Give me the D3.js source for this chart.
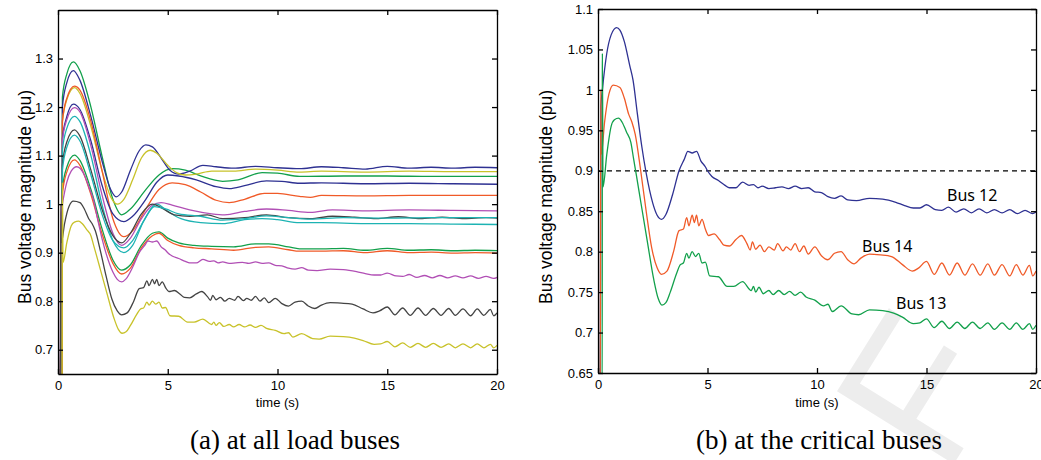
<!DOCTYPE html>
<html>
<head>
<meta charset="utf-8">
<script src="https://cdn.jsdelivr.net/npm/d3@7"></script>
<style>
  body { margin: 0; background: #fff; }
  svg { display: block; }
  .tick text { font-family: "Liberation Sans", Arial, sans-serif; font-size: 13px; fill: #000; }
  .domain, .tick line { stroke: #000; stroke-width: 1.3px; }
</style>
</head>
<body>
<svg id="chart" width="1041" height="460"></svg>
<script>
/**
Data: [time (s), voltage (pu)]
*/
var timeTicks = [0, 5, 10, 15, 20];
var leftVoltTicks = [0.7, 0.8, 0.9, 1.0, 1.1, 1.2, 1.3];
var rightVoltTicks = [0.65, 0.7, 0.75, 0.8, 0.85, 0.9, 0.95, 1.0, 1.05, 1.1];
var voltageLimit = 0.9;

var bus12 = [[0,1.0],[0.03,0.6],[0.1,0.6],[0.13,0.98],[0.2,1.0],[0.4,1.045],[0.6,1.068],[0.85,1.077],[1.0,1.074],[1.2,1.06],[1.45,1.03],[1.6,1.012],[1.8,0.97],[2.0,0.93],[2.2,0.897],[2.5,0.86],[2.7,0.845],[2.9,0.84],[3.1,0.846],[3.4,0.87],[3.7,0.9],[3.95,0.915],[4.1,0.924],[4.3,0.922],[4.5,0.924],[4.7,0.912],[4.9,0.905],[5.0,0.9],[5.2,0.893],[5.5,0.888],[5.8,0.882],[6.0,0.879],[6.3,0.879],[6.6,0.886],[6.9,0.882],[7.1,0.883],[7.3,0.879],[7.5,0.881],[7.8,0.878],[8.1,0.879],[8.4,0.88],[8.7,0.878],[9.0,0.881],[9.3,0.878],[9.6,0.879],[9.9,0.874],[10.2,0.873],[10.5,0.868],[10.8,0.866],[11.1,0.869],[11.4,0.864],[11.8,0.863],[12.4,0.866],[13.0,0.865],[13.6,0.861],[14.0,0.857],[14.4,0.854],[14.7,0.854],[15.0,0.858],[15.4,0.852],[15.7,0.851],[16.0,0.855],[16.35,0.849],[16.7,0.853],[17.05,0.848],[17.4,0.853],[17.75,0.848],[18.1,0.852],[18.45,0.848],[18.8,0.852],[19.15,0.847],[19.5,0.851],[19.85,0.847],[20,0.849]];

var bus14 = [[0,0.98],[0.03,0.6],[0.1,0.6],[0.13,1.0],[0.15,0.92],[0.3,0.96],[0.5,0.995],[0.7,1.006],[1.0,1.003],[1.2,0.99],[1.4,0.97],[1.55,0.96],[1.7,0.945],[1.95,0.9],[2.2,0.85],[2.45,0.805],[2.7,0.78],[2.9,0.772],[3.15,0.776],[3.45,0.8],[3.7,0.826],[3.9,0.828],[4.05,0.842],[4.15,0.832],[4.3,0.845],[4.4,0.836],[4.5,0.845],[4.6,0.832],[4.75,0.84],[4.9,0.828],[5.05,0.82],[5.3,0.822],[5.55,0.815],[5.75,0.808],[6.0,0.807],[6.3,0.815],[6.55,0.82],[6.8,0.81],[6.95,0.802],[7.05,0.812],[7.2,0.803],[7.4,0.808],[7.6,0.8],[7.8,0.806],[8.05,0.802],[8.2,0.81],[8.45,0.801],[8.6,0.806],[8.8,0.802],[9.0,0.81],[9.2,0.8],[9.4,0.807],[9.6,0.797],[9.9,0.806],[10.2,0.795],[10.5,0.79],[10.8,0.798],[11.1,0.8],[11.4,0.79],[11.7,0.785],[12.0,0.792],[12.4,0.797],[12.9,0.796],[13.4,0.794],[13.9,0.784],[14.35,0.776],[14.65,0.78],[15.0,0.788],[15.35,0.772],[15.7,0.786],[16.05,0.771],[16.4,0.786],[16.75,0.771],[17.1,0.785],[17.45,0.771],[17.8,0.785],[18.1,0.771],[18.45,0.784],[18.8,0.77],[19.1,0.784],[19.4,0.771],[19.7,0.783],[19.85,0.77],[20,0.776]];

var bus13 = [[0,1.008],[0.03,0.6],[0.19,0.6],[0.2,1.045],[0.23,0.88],[0.4,0.92],[0.6,0.955],[0.75,0.963],[0.94,0.965],[1.1,0.96],[1.3,0.948],[1.5,0.935],[1.63,0.914],[1.75,0.895],[1.95,0.862],[2.25,0.813],[2.55,0.765],[2.75,0.742],[2.92,0.734],[3.1,0.737],[3.3,0.75],[3.6,0.774],[3.76,0.784],[3.9,0.786],[4.05,0.798],[4.15,0.792],[4.3,0.8],[4.45,0.794],[4.6,0.798],[4.75,0.786],[4.9,0.787],[5.1,0.77],[5.5,0.769],[5.9,0.757],[6.2,0.757],[6.6,0.763],[7.0,0.752],[7.1,0.757],[7.2,0.75],[7.35,0.756],[7.55,0.748],[7.8,0.752],[8.0,0.747],[8.25,0.752],[8.5,0.747],[8.75,0.751],[9.0,0.746],[9.25,0.75],[9.5,0.744],[9.9,0.74],[10.3,0.733],[10.5,0.735],[10.7,0.726],[11.1,0.733],[11.6,0.723],[11.9,0.722],[12.4,0.728],[13.0,0.727],[13.5,0.724],[13.9,0.719],[14.4,0.711],[14.7,0.712],[15.0,0.717],[15.35,0.706],[15.7,0.714],[16.05,0.705],[16.4,0.713],[16.75,0.705],[17.1,0.713],[17.45,0.705],[17.8,0.712],[18.1,0.704],[18.45,0.712],[18.8,0.704],[19.1,0.712],[19.4,0.704],[19.7,0.711],[19.85,0.704],[20,0.709]];

// the other load buses (left panel only)
var loadBus1 = [[0,1.05],[0.03,0.6],[0.19,0.6],[0.2,1.22],[0.4,1.268],[0.7,1.293],[1.0,1.275],[1.5,1.20],[2.0,1.10],[2.5,1.01],[2.9,0.978],[3.3,0.99],[4.0,1.03],[4.6,1.06],[5.2,1.073],[5.8,1.07],[6.5,1.058],[7.5,1.047],[8.2,1.05],[9.3,1.065],[10,1.064],[11,1.057],[13,1.058],[15,1.058],[17,1.057],[20,1.057]];
var loadBus2 = [[0,1.09],[0.03,0.6],[0.19,0.6],[0.2,1.2],[0.4,1.25],[0.7,1.275],[1.0,1.255],[1.5,1.18],[2.0,1.09],[2.4,1.03],[2.65,1.015],[2.9,1.025],[3.3,1.07],[3.7,1.11],[4.0,1.122],[4.3,1.118],[4.7,1.095],[5.1,1.07],[5.5,1.062],[6.0,1.068],[6.6,1.08],[7.2,1.077],[8,1.074],[9,1.078],[10,1.075],[11,1.073],[12,1.077],[13,1.075],[14,1.072],[15,1.078],[16,1.074],[17,1.076],[18,1.074],[19,1.076],[20,1.075]];
var loadBus3 = [[0,1.0],[0.03,0.6],[0.19,0.6],[0.2,1.17],[0.4,1.215],[0.75,1.24],[1.0,1.228],[1.5,1.16],[2.0,1.07],[2.4,1.015],[2.7,1.0],[3.0,1.01],[3.4,1.05],[3.8,1.095],[4.2,1.111],[4.5,1.105],[5.0,1.08],[5.4,1.065],[5.8,1.06],[6.3,1.062],[7,1.068],[8,1.068],[9,1.072],[10,1.07],[11,1.066],[12,1.068],[14,1.066],[16,1.068],[18,1.067],[20,1.067]];
var loadBus4 = [[0,1.0],[0.03,0.6],[0.19,0.6],[0.2,1.17],[0.4,1.218],[0.75,1.243],[1.0,1.235],[1.5,1.17],[2.0,1.07],[2.5,0.97],[3.0,0.933],[3.4,0.945],[4.0,0.99],[4.6,1.03],[5.2,1.044],[5.8,1.04],[6.5,1.025],[7.2,1.008],[7.8,1.003],[8.5,1.01],[9.4,1.022],[10,1.022],[11,1.016],[11.5,1.014],[12,1.018],[14,1.017],[16,1.018],[20,1.018]];
var loadBus5 = [[0,1.05],[0.03,0.6],[0.19,0.6],[0.2,1.135],[0.4,1.18],[0.7,1.206],[1.0,1.195],[1.5,1.13],[2.0,1.04],[2.5,0.98],[3.0,0.964],[3.4,0.975],[4.0,1.01],[4.5,1.045],[5.0,1.06],[5.5,1.058],[6.3,1.05],[7.2,1.036],[7.8,1.032],[8.5,1.038],[9.5,1.048],[10.2,1.047],[11,1.043],[12,1.044],[14,1.042],[16,1.043],[18,1.042],[20,1.041]];
var loadBus6 = [[0,1.0],[0.03,0.6],[0.19,0.6],[0.2,1.13],[0.4,1.174],[0.75,1.199],[1.0,1.19],[1.5,1.12],[2.0,1.02],[2.5,0.94],[2.9,0.915],[3.3,0.93],[3.8,0.97],[4.3,0.998],[4.7,1.003],[5.2,0.998],[6,0.988],[7,0.98],[7.6,0.978],[8.5,0.985],[9.5,0.99],[10.5,0.987],[11.5,0.983],[12.5,0.988],[14,0.986],[16,0.988],[18,0.987],[20,0.986]];
var loadBus7 = [[0,0.98],[0.03,0.6],[0.19,0.6],[0.2,1.11],[0.4,1.156],[0.75,1.181],[1.0,1.17],[1.5,1.10],[2.0,1.0],[2.5,0.925],[3.0,0.9],[3.4,0.915],[3.9,0.965],[4.5,1.0],[5.0,0.985],[5.6,0.97],[6.5,0.962],[7.5,0.96],[8.5,0.968],[9.3,0.97],[10,0.968],[11,0.962],[12,0.962],[14,0.96],[16,0.96],[18,0.959],[20,0.958]];
var loadBus8 = [[0,1.0],[0.03,0.6],[0.19,0.6],[0.2,1.08],[0.4,1.128],[0.75,1.153],[1.0,1.14],[1.5,1.07],[2.0,0.99],[2.5,0.935],[2.9,0.92],[3.3,0.94],[3.8,0.98],[4.3,1.0],[4.8,0.99],[5.3,0.978],[6,0.975],[6.8,0.978],[7.5,0.97],[8.5,0.972],[9.5,0.978],[10.5,0.972],[11.5,0.97],[12.5,0.975],[13.5,0.973],[14.5,0.97],[15.5,0.974],[16.5,0.97],[17.5,0.973],[18.5,0.97],[19.5,0.972],[20,0.971]];
var loadBus9 = [[0,0.96],[0.03,0.6],[0.19,0.6],[0.2,1.07],[0.4,1.117],[0.75,1.142],[1.0,1.13],[1.5,1.06],[2.0,0.98],[2.5,0.925],[3.0,0.91],[3.4,0.925],[3.9,0.965],[4.4,0.995],[4.9,0.99],[5.5,0.98],[6.5,0.975],[7.5,0.967],[8.5,0.97],[9.5,0.976],[10.5,0.972],[11.5,0.969],[13,0.972],[15,0.971],[17,0.972],[20,0.972]];
var loadBus10 = [[0,0.95],[0.03,0.6],[0.19,0.6],[0.2,1.03],[0.4,1.076],[0.75,1.101],[1.0,1.09],[1.5,1.03],[2.0,0.95],[2.5,0.885],[2.9,0.864],[3.3,0.875],[3.8,0.915],[4.3,0.94],[4.6,0.943],[5.0,0.93],[5.5,0.92],[6.2,0.915],[7,0.913],[8,0.912],[9,0.918],[9.6,0.918],[10.5,0.912],[11,0.908],[12,0.908],[13,0.909],[14,0.905],[15,0.909],[16,0.905],[17,0.906],[18,0.904],[19,0.905],[20,0.904]];
var loadBus11 = [[0,0.95],[0.03,0.6],[0.19,0.6],[0.2,1.02],[0.4,1.066],[0.75,1.091],[1.0,1.08],[1.5,1.02],[2.0,0.94],[2.5,0.878],[2.9,0.856],[3.3,0.868],[3.8,0.91],[4.3,0.935],[4.6,0.94],[5.0,0.925],[5.5,0.915],[6.2,0.91],[7,0.908],[8,0.905],[9,0.911],[9.6,0.912],[10.5,0.906],[11,0.903],[12,0.903],[13,0.904],[14,0.9],[15,0.904],[16,0.9],[17,0.901],[18,0.899],[19,0.9],[20,0.899]];

var leftSeries = [loadBus1, loadBus2, loadBus3, loadBus4, loadBus5, loadBus6, loadBus7, loadBus8, loadBus9, loadBus10, loadBus11, bus12, bus14, bus13];
var rightSeries = [bus12, bus14, bus13];
var rightNames = ["Bus 12", "Bus 14", "Bus 13"];

/**
Styles
*/
var BLUE = "#2e3192", GREEN = "#12a04b", ORANGE = "#f05a28", YELLOW = "#c8c22a",
    MAGENTA = "#b14fb5", CYAN = "#1db3b3", GRAY = "#444444";
var leftColors = [GREEN, BLUE, YELLOW, ORANGE, BLUE, MAGENTA, CYAN, GRAY, CYAN, GREEN, ORANGE, MAGENTA, GRAY, YELLOW];
var rightColors = [BLUE, ORANGE, GREEN];
var labelPos = [[947, 201], [862, 252], [896, 309]];

var svg = d3.select("#chart");

// faint watermark behind the right panel
svg.append("text")
  .attr("transform", "translate(945,478) rotate(-58)")
  .style("font-family", "Liberation Sans, Arial, sans-serif")
  .style("font-size", "200px")
  .style("fill", "#ededed")
  .text("F");

function drawPanel(opt) {
  var x = d3.scaleLinear().domain([0, 20]).range([opt.left, opt.right]);
  var y = d3.scaleLinear().domain(opt.yDomain).range([opt.bottom, opt.top]);
  var g = svg.append("g");

  g.append("clipPath").attr("id", opt.id)
    .append("rect")
    .attr("x", opt.left).attr("y", opt.top)
    .attr("width", opt.right - opt.left).attr("height", opt.bottom - opt.top);

  var line = d3.line()
    .x(function(d) { return x(d[0]); })
    .y(function(d) { return y(d[1]); })
    .curve(d3.curveMonotoneX);

  var plot = g.append("g").attr("clip-path", "url(#" + opt.id + ")");

  if (opt.limit != null) {
    plot.append("line")
      .attr("x1", x(0)).attr("x2", x(20))
      .attr("y1", y(opt.limit)).attr("y2", y(opt.limit))
      .style("stroke", "#000").style("stroke-width", 1.2)
      .style("stroke-dasharray", "5,4");
  }

  plot.selectAll("path.series")
    .data(opt.series)
    .enter().append("path")
    .attr("class", "series")
    .attr("d", line)
    .style("fill", "none")
    .style("stroke", function(d, i) { return opt.colors[i]; })
    .style("stroke-width", 1.3);

  // box with inward ticks on all sides
  var fmt = function(d) { return d3.format("")(+d.toFixed(2)); };
  g.append("g").attr("transform", "translate(0," + opt.bottom + ")")
    .call(d3.axisBottom(x).tickValues(timeTicks).tickSizeInner(-5).tickSizeOuter(0).tickPadding(7));
  g.append("g").attr("transform", "translate(0," + opt.top + ")")
    .call(d3.axisTop(x).tickValues(timeTicks).tickSizeInner(-5).tickSizeOuter(0).tickFormat(""));
  g.append("g").attr("transform", "translate(" + opt.left + ",0)")
    .call(d3.axisLeft(y).tickValues(opt.yTicks).tickSizeInner(-5).tickSizeOuter(0).tickPadding(5).tickFormat(fmt));
  g.append("g").attr("transform", "translate(" + opt.right + ",0)")
    .call(d3.axisRight(y).tickValues(opt.yTicks).tickSizeInner(-5).tickSizeOuter(0).tickFormat(""));

  g.append("text")
    .attr("x", (opt.left + opt.right) / 2).attr("y", 407)
    .attr("text-anchor", "middle")
    .style("font-family", "Liberation Sans, Arial, sans-serif").style("font-size", "13px")
    .text("time (s)");

  g.append("text")
    .attr("transform", "translate(" + opt.yLabelX + ",197) rotate(-90)")
    .attr("text-anchor", "middle").attr("dy", "0.35em")
    .style("font-family", "Liberation Sans, Arial, sans-serif").style("font-size", "17.5px")
    .text("Bus voltage magnitude (pu)");

  g.append("text")
    .attr("x", opt.captionX).attr("y", 449)
    .attr("text-anchor", "middle")
    .style("font-family", "'Liberation Serif', 'Times New Roman', serif").style("font-size", "27px")
    .text(opt.caption);

  return g;
}

drawPanel({
  id: "clipA", left: 58, right: 497, top: 10, bottom: 374,
  yDomain: [0.65, 1.4], yTicks: leftVoltTicks,
  series: leftSeries, colors: leftColors,
  yLabelX: 25, captionX: 295, caption: "(a) at all load buses"
});

var right = drawPanel({
  id: "clipB", left: 598, right: 1036, top: 9, bottom: 373,
  yDomain: [0.65, 1.1], yTicks: rightVoltTicks,
  series: rightSeries, colors: rightColors, limit: voltageLimit,
  yLabelX: 546, captionX: 819, caption: "(b) at the critical buses"
});

right.selectAll("text.bus")
  .data(rightNames)
  .enter().append("text")
  .attr("class", "bus")
  .attr("x", function(d, i) { return labelPos[i][0]; })
  .attr("y", function(d, i) { return labelPos[i][1]; })
  .style("font-family", "Noto Sans, sans-serif").style("font-size", "16px")
  .text(function(d) { return d; });
</script>
</body>
</html>
